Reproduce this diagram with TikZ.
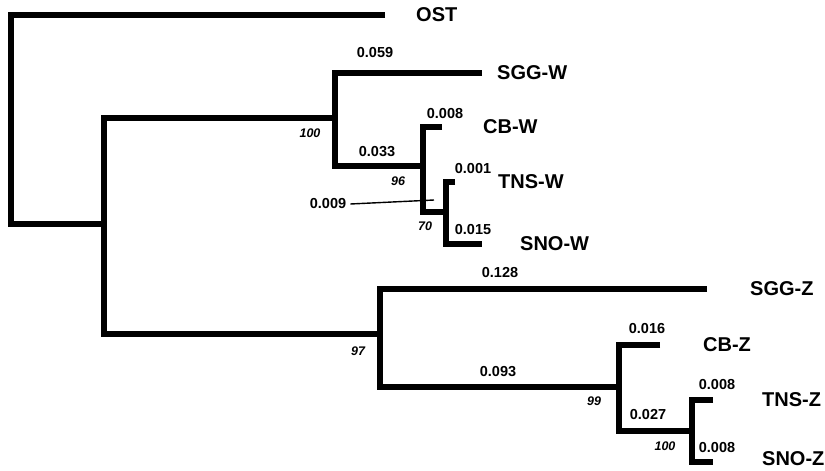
\documentclass[tikz,border=0pt]{standalone}
\usepackage{fontspec}
\setmainfont{Liberation Sans}
\usepackage{tikz}
\usetikzlibrary{positioning}

\begin{document}
\begin{tikzpicture}[
            x=1pt, y=-1pt,
            branch/.style={line width=6.5pt, line join=miter},
            taxon/.style={
                inner sep=0pt,
                anchor=west,
                font=\bfseries\fontsize{20}{20}\selectfont
            },
            blen/.style={inner sep=0pt, font=\bfseries\fontsize{14.5}{14.5}\selectfont},
            boot/.style={inner sep=0pt, font=\bfseries\itshape\fontsize{12.5}{12.5}\selectfont},
            pointer/.style={line width=1.4pt}
        ]
        \useasboundingbox (0,0) rectangle (825,471);

        % internal nodes
        \coordinate (root) at (11,224);
        \coordinate (ingroup) at (104,224);
        \coordinate (wclade) at (335,118);
        \coordinate (cbw-node) at (423,166);
        \coordinate (tnsw-node) at (446,212);
        \coordinate (zclade) at (380,334);
        \coordinate (cbz-node) at (619,387);
        \coordinate (tnsz-node) at (692,431);

        % tips
        \coordinate (ost) at (385,15);
        \coordinate (sggw) at (482,73);
        \coordinate (cbw) at (442,127);
        \coordinate (tnsw) at (455,182);
        \coordinate (snow) at (482,244);
        \coordinate (sggz) at (707,289);
        \coordinate (cbz) at (660,345);
        \coordinate (tnsz) at (713,400);
        \coordinate (snoz) at (713,462);

        % branches
        \draw[branch] (ost) -| (root) |- (ingroup);
        \draw[branch] (wclade) -| (ingroup) |- (zclade);
        \draw[branch] (sggw) -| (wclade) |- (cbw-node);
        \draw[branch] (cbw) -| (cbw-node) |- (tnsw-node);
        \draw[branch] (tnsw) -| (tnsw-node) |- (snow);
        \draw[branch] (sggz) -| (zclade) |- (cbz-node);
        \draw[branch] (cbz) -| (cbz-node) |- (tnsz-node);
        \draw[branch] (tnsz) -| (tnsz-node) |- (snoz);

        % taxa
        \node[taxon, right=31pt of ost] (lost) {OST};
        \node[taxon, right=15pt of sggw] (lsggw) {SGG-W};
        \node[taxon, right=41pt of cbw] (lcbw) {CB-W};
        \node[taxon, right=43pt of tnsw] (ltnsw) {TNS-W};
        \node[taxon, right=38pt of snow] (lsnow) {SNO-W};
        \node[taxon, right=43pt of sggz] (lsggz) {SGG-Z};
        \node[taxon, right=43pt of cbz] (lcbz) {CB-Z};
        \node[taxon, right=49pt of tnsz] (ltnsz) {TNS-Z};
        \node[taxon, right=49pt of snoz, yshift=3pt] (lsnoz) {SNO-Z};

        % branch lengths
        \node[blen] (b059) at (375,53) {0.059};
        \node[blen] (b033) at (377,152) {0.033};
        \node[blen] (b008w) at (445,114) {0.008};
        \node[blen] (b001) at (473,169) {0.001};
        \node[blen] (b015) at (473,230) {0.015};
        \node[blen] (b009) at (328,204) {0.009};
        \node[blen] (b128) at (500,273) {0.128};
        \node[blen] (b093) at (498,372) {0.093};
        \node[blen] (b016) at (647,329) {0.016};
        \node[blen] (b027) at (648,415) {0.027};
        \node[blen] (b008a) at (717,385) {0.008};
        \node[blen] (b008b) at (717,448) {0.008};

        \coordinate (short) at (434,200);
        \draw[pointer] ([xshift=4pt]b009.east) -- (short);

        % bootstrap support
        \node[boot] (s100w) at (310,133) {100};
        \node[boot] (s96) at (398,181) {96};
        \node[boot] (s70) at (425,226) {70};
        \node[boot] (s97) at (358,351) {97};
        \node[boot] (s99) at (594,401) {99};
        \node[boot] (s100z) at (665,446) {100};

        \end{tikzpicture}
\end{document}
